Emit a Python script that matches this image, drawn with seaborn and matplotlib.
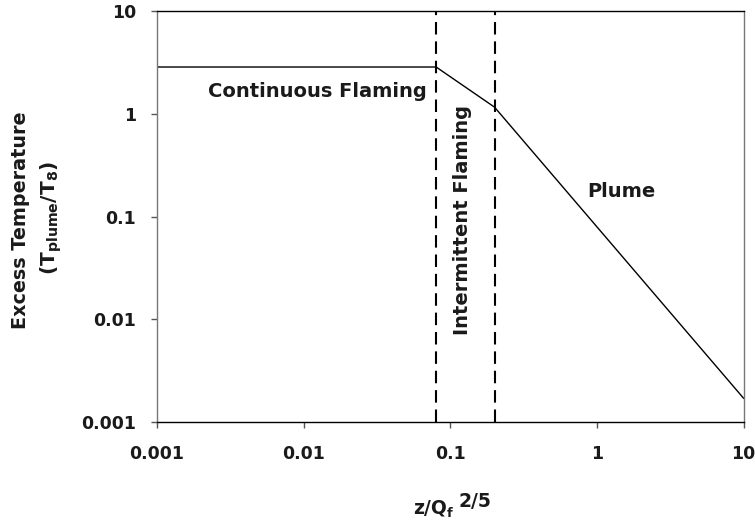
import numpy as np
import pandas as pd
import matplotlib
matplotlib.use("Agg")
import matplotlib.pyplot as plt
import seaborn as sns

# z/Q^(2/5) breakpoints and excess temperature ratio
z_scaled = [0.001, 0.08, 0.2, 10]
excess_temp = [2.85, 2.85, 1.16, 0.0017]
zone_edges = [0.08, 0.2]
x_ticks = [0.001, 0.01, 0.1, 1, 10]
x_tick_labels = ["0.001", "0.01", "0.1", "1", "10"]
y_ticks = [0.001, 0.01, 0.1, 1, 10]
y_tick_labels = ["0.001", "0.01", "0.1", "1", "10"]

sns.set_style("white")
plt.rcParams['font.family'] = ['DejaVu Sans']
plt.rcParams['font.weight'] = 'bold'
plt.rcParams['mathtext.fontset'] = 'dejavusans'
plt.rcParams['mathtext.default'] = 'bf'
plt.rcParams['text.color'] = '#1a1a1a'
plt.rcParams['xtick.labelcolor'] = '#1a1a1a'
plt.rcParams['ytick.labelcolor'] = '#1a1a1a'

df = pd.DataFrame({"z": z_scaled, "t": excess_temp})

fig = plt.figure(figsize=(7.55, 5.23), dpi=100)
ax = fig.add_axes([0.208, 0.193, 0.777, 0.786])

sns.lineplot(data=df, x="z", y="t", ax=ax, color="black", linewidth=1.0)
for e in zone_edges:
    ax.axvline(e, color="black", linestyle=(0, (6, 3.3)), linewidth=1.5)

ax.set_xscale("log")
ax.set_yscale("log")
ax.set_xlim(0.001, 10)
ax.set_ylim(0.001, 10)
ax.set_xticks(x_ticks)
ax.set_xticklabels(x_tick_labels)
ax.set_yticks(y_ticks)
ax.set_yticklabels(y_tick_labels)
ax.minorticks_off()
ax.tick_params(axis="both", direction="out", length=4.5, width=1, color="#555555",
               labelsize=12.5, labelcolor="#1a1a1a", bottom=True, left=True)
ax.tick_params(axis="y", pad=10.5)
ax.tick_params(axis="x", pad=12)
ax.set_xlabel("")
ax.set_ylabel("")

for s in ["left", "right"]:
    ax.spines[s].set_color("#777777")
for s in ["top", "bottom"]:
    ax.spines[s].set_color("black")
for s in ax.spines.values():
    s.set_linewidth(1.0)

# axis titles
fig.text(413 / 755, 1 - 515 / 523, r"z/Q$_{f}$", fontsize=13.5,
         ha="left", va="baseline")
fig.text(459 / 755, 1 - 507 / 523, "2/5", fontsize=13.5,
         ha="left", va="baseline")
fig.text(21 / 755, 1 - 220 / 523, "Excess Temperature", fontsize=13.8,
         rotation=90, ha="center", va="center")
fig.text(51 / 755, 1 - 218 / 523, r"(T$_{plume}$/T$_{8}$)", fontsize=14.5,
         rotation=90, ha="center", va="center")

ax.text(0.0124, 1.46, "Continuous Flaming", fontsize=14,
        ha="center", va="baseline")
ax.text(0.1216, 0.092, "Intermittent Flaming", fontsize=14,
        ha="center", va="center", rotation=90)
ax.text(1.47, 0.155, "Plume", fontsize=14,
        ha="center", va="baseline")

fig.savefig("out.png", dpi=100)
